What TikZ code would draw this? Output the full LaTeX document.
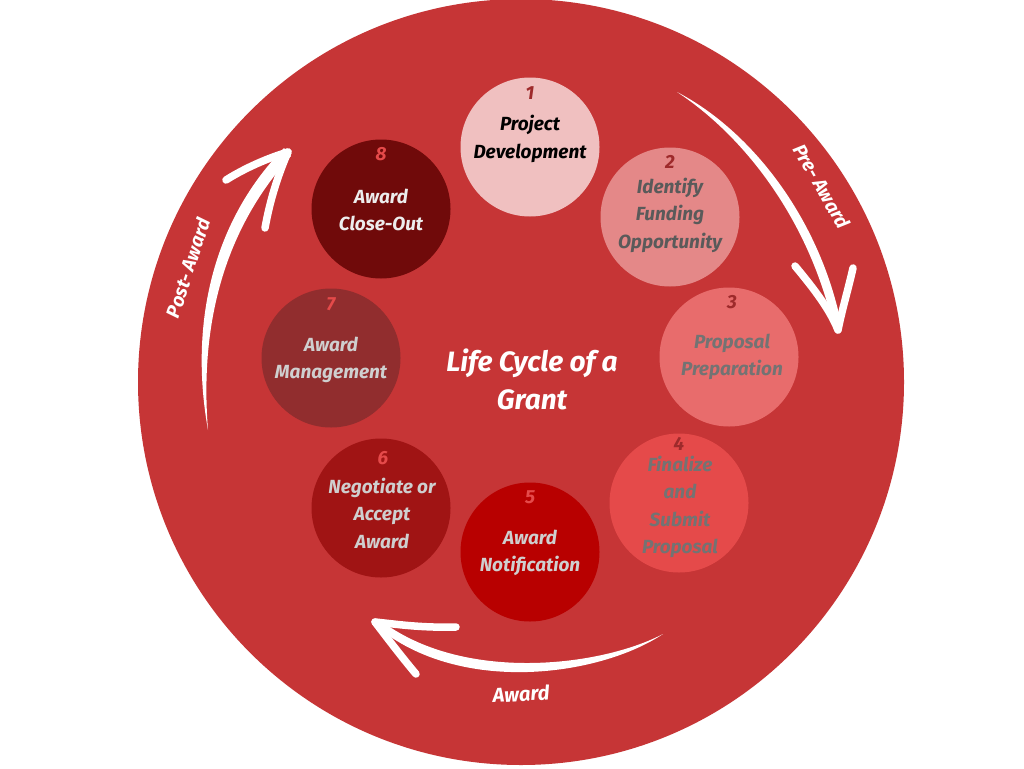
\documentclass[tikz,border=0pt]{standalone}
\usepackage{fontspec}
\setmainfont{Fira Sans}
\definecolor{bigred}{HTML}{C63536}
\definecolor{cA}{HTML}{F0C0C0}
\definecolor{cB}{HTML}{E48888}
\definecolor{cC}{HTML}{E86C6C}
\definecolor{cD}{HTML}{E54A4A}
\definecolor{cE}{HTML}{B80000}
\definecolor{cF}{HTML}{A01414}
\definecolor{cG}{HTML}{912D2E}
\definecolor{cH}{HTML}{700A0A}
\definecolor{numdark}{HTML}{9E2A2B}
\definecolor{numlight}{HTML}{E54A4A}
\definecolor{txtgray}{HTML}{5A5A5A}
\definecolor{txtlight}{HTML}{CFCFCF}
\tikzset{
  stepcirc/.style={circle, minimum size=139pt, inner sep=0pt},
  numlbl/.style={font=\fontsize{19}{22}\selectfont\bfseries\itshape},
  steplbl/.style={align=center, inner sep=0pt, font=\fontsize{19}{27.5}\selectfont\bfseries\itshape},
  arrowlbl/.style={text=white, inner sep=0pt, font=\fontsize{19}{22}\selectfont\bfseries\itshape},
  barb/.style={white, line width=7.5pt, line cap=round},
}
\begin{document}
\begin{tikzpicture}[x=1pt,y=-1pt]
\useasboundingbox (0,0) rectangle (1024,768);
\fill[white] (0,0) rectangle (1024,768);
\node[circle, fill=bigred, minimum size=766pt, inner sep=0pt] (big) at (521,382) {};

% step circles
\node[stepcirc, fill=cA] (s1) at (530,147) {};
\node[stepcirc, fill=cB] (s2) at (670,217) {};
\node[stepcirc, fill=cC] (s3) at (729,357) {};
\node[stepcirc, fill=cD] (s4) at (679,503) {};
\node[stepcirc, fill=cE] (s5) at (530,552) {};
\node[stepcirc, fill=cF] (s6) at (381,508) {};
\node[stepcirc, fill=cG] (s7) at (331,358) {};
\node[stepcirc, fill=cH] (s8) at (381,209) {};

% numbers
\node[numlbl, text=numdark] (n1) at (530,93) {1};
\node[numlbl, text=numdark] (n2) at (670,162) {2};
\node[numlbl, text=numdark] (n3) at (732,302) {3};
\node[numlbl, text=numdark] (n4) at (679,444) {4};
\node[numlbl, text=numlight] (n5) at (530,497) {5};
\node[numlbl, text=numlight] (n6) at (383,458) {6};
\node[numlbl, text=numlight] (n7) at (331,304) {7};
\node[numlbl, text=numlight] (n8) at (381,154) {8};

% step labels
\node[steplbl, text=black] (t1) at (530,139) {Project\\Development};
\node[steplbl, text=txtgray] (t2) at (670,215) {Identify\\Funding\\Opportunity};
\node[steplbl, text=txtgray!85] (t3) at (732,357) {Proposal\\Preparation};
\node[steplbl, text=txtgray!85] (t4) at (680,507) {Finalize\\and\\Submit\\Proposal};
\node[steplbl, text=txtlight] (t5) at (530,553) {Award\\Notification};
\node[steplbl, text=txtlight] (t6) at (382,513) {Negotiate or\\Accept\\Award};
\node[steplbl, text=txtlight] (t7) at (331,360) {Award\\Management};
\node[steplbl, text=white!93!black] (t8) at (381,210) {Award\\Close-Out};

% title
\node[align=center, text=white, font=\fontsize{28}{38}\selectfont\bfseries\itshape] (title) at (532,379) {Life Cycle of a\\Grant};

% pre-award arrow
\coordinate (preS) at (677,92);
\coordinate (preT) at (838,330);
\coordinate (preL) at (795,266);
\coordinate (preR) at (853,268);
\fill[white] (preS) .. controls (752,131) and (821,220) .. (842,328)
  -- (834,330) .. controls (811,224) and (747,138) .. (preS) -- cycle;
\draw[barb] (preL) .. controls (815,290) and (830,310) .. (preT);
\draw[barb] (preR) .. controls (848,290) and (842,310) .. (preT);
\node[arrowlbl, rotate=-60] (prelbl) at (822,186) {Pre- Award};

% award arrow
\coordinate (awS) at (663,634);
\coordinate (awT) at (375,622);
\coordinate (awU) at (456,627);
\coordinate (awL) at (416,674);
\fill[white] (awS) .. controls (600,676) and (460,696) .. (376,626)
  -- (380,620) .. controls (462,683) and (600,667) .. (awS) -- cycle;
\draw[barb] (awU) .. controls (420,628) and (395,624) .. (awT);
\draw[barb] (awL) .. controls (400,655) and (385,635) .. (awT);
\node[arrowlbl, rotate=3, font=\fontsize{20}{22}\selectfont\bfseries\itshape] (awlbl) at (521,694) {Award};

% post-award arrow
\coordinate (poS) at (208,430);
\coordinate (poT) at (288,152);
\coordinate (poL) at (226,180);
\coordinate (poB) at (265,228);
\fill[white] (poS) .. controls (190,330) and (209,225) .. (284,148)
  -- (291,156) .. controls (221,233) and (200,330) .. (poS) -- cycle;
\draw[barb] (poL) .. controls (245,168) and (268,158) .. (poT);
\draw[barb] (poB) .. controls (270,200) and (278,175) .. (poT);
\node[arrowlbl, rotate=72] (polbl) at (188,268) {Post- Award};
\end{tikzpicture}
\end{document}
